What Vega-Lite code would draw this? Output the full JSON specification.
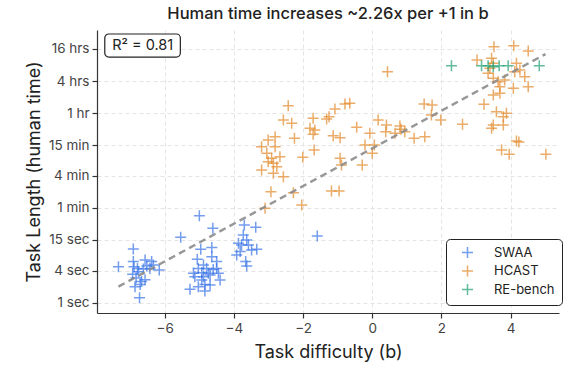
{
  "$schema": "https://vega.github.io/schema/vega-lite/v6.json",
  "width": 462,
  "height": 283,
  "autosize": "none",
  "padding": {"left": 97, "top": 30, "right": 4, "bottom": 55},
  "background": "white",
  "title": {"text": "Human time increases ~2.26x per +1 in b", "fontSize": 16.5, "fontWeight": 500, "font": "Inter", "color": "#222", "offset": 8, "anchor": "middle"},
  "datasets": {
    "points": [
      {"b": -6.91, "t": 10.2, "source": "SWAA"}, {"b": -7.34, "t": 4.7, "source": "SWAA"}, {"b": -6.91, "t": 5.9, "source": "SWAA"},
      {"b": -6.57, "t": 6.3, "source": "SWAA"}, {"b": -6.38, "t": 5.9, "source": "SWAA"}, {"b": -6.89, "t": 4.7, "source": "SWAA"},
      {"b": -6.79, "t": 4.4, "source": "SWAA"}, {"b": -6.52, "t": 4.9, "source": "SWAA"}, {"b": -6.33, "t": 5.1, "source": "SWAA"},
      {"b": -6.16, "t": 4.1, "source": "SWAA"}, {"b": -6.76, "t": 3.8, "source": "SWAA"}, {"b": -6.62, "t": 4.3, "source": "SWAA"},
      {"b": -6.93, "t": 3.4, "source": "SWAA"}, {"b": -6.83, "t": 2.9, "source": "SWAA"}, {"b": -6.57, "t": 2.7, "source": "SWAA"},
      {"b": -6.67, "t": 2.5, "source": "SWAA"}, {"b": -6.86, "t": 2.0, "source": "SWAA"}, {"b": -6.71, "t": 2.2, "source": "SWAA"},
      {"b": -6.73, "t": 1.24, "source": "SWAA"}, {"b": -6.43, "t": 4.4, "source": "SWAA"},
      {"b": -5.0, "t": 42.9, "source": "SWAA"}, {"b": -4.61, "t": 24.8, "source": "SWAA"}, {"b": -5.54, "t": 16.8, "source": "SWAA"},
      {"b": -4.96, "t": 10.0, "source": "SWAA"}, {"b": -4.64, "t": 10.8, "source": "SWAA"}, {"b": -5.06, "t": 6.5, "source": "SWAA"},
      {"b": -4.64, "t": 7.3, "source": "SWAA"}, {"b": -4.5, "t": 5.9, "source": "SWAA"}, {"b": -4.88, "t": 5.1, "source": "SWAA"},
      {"b": -5.03, "t": 4.4, "source": "SWAA"}, {"b": -4.79, "t": 4.4, "source": "SWAA"}, {"b": -4.6, "t": 4.2, "source": "SWAA"},
      {"b": -5.17, "t": 3.55, "source": "SWAA"}, {"b": -4.93, "t": 3.65, "source": "SWAA"}, {"b": -4.74, "t": 3.55, "source": "SWAA"},
      {"b": -4.5, "t": 4.4, "source": "SWAA"}, {"b": -4.45, "t": 3.55, "source": "SWAA"}, {"b": -5.13, "t": 3.07, "source": "SWAA"},
      {"b": -4.88, "t": 3.07, "source": "SWAA"}, {"b": -4.69, "t": 3.3, "source": "SWAA"}, {"b": -4.93, "t": 2.66, "source": "SWAA"},
      {"b": -4.4, "t": 2.66, "source": "SWAA"}, {"b": -4.84, "t": 2.2, "source": "SWAA"}, {"b": -5.27, "t": 1.78, "source": "SWAA"},
      {"b": -5.03, "t": 2.0, "source": "SWAA"}, {"b": -4.84, "t": 1.66, "source": "SWAA"}, {"b": -4.69, "t": 2.14, "source": "SWAA"},
      {"b": -3.7, "t": 28.7, "source": "SWAA"}, {"b": -3.37, "t": 25.9, "source": "SWAA"}, {"b": -3.73, "t": 18.6, "source": "SWAA"},
      {"b": -3.63, "t": 15.0, "source": "SWAA"}, {"b": -3.87, "t": 13.0, "source": "SWAA"}, {"b": -3.78, "t": 12.1, "source": "SWAA"},
      {"b": -3.58, "t": 12.1, "source": "SWAA"}, {"b": -3.49, "t": 9.7, "source": "SWAA"}, {"b": -3.34, "t": 10.0, "source": "SWAA"},
      {"b": -3.82, "t": 9.1, "source": "SWAA"}, {"b": -3.92, "t": 7.8, "source": "SWAA"}, {"b": -3.66, "t": 5.9, "source": "SWAA"},
      {"b": -3.63, "t": 4.9, "source": "SWAA"}, {"b": -1.59, "t": 17.8, "source": "SWAA"},
      {"b": -2.43, "t": 4966, "source": "HCAST"}, {"b": -2.57, "t": 2673, "source": "HCAST"}, {"b": -2.33, "t": 2315, "source": "HCAST"},
      {"b": -2.81, "t": 1301, "source": "HCAST"}, {"b": -2.25, "t": 1211, "source": "HCAST"}, {"b": -3.01, "t": 1127, "source": "HCAST"},
      {"b": -3.2, "t": 845, "source": "HCAST"}, {"b": -2.81, "t": 845, "source": "HCAST"}, {"b": -3.05, "t": 634, "source": "HCAST"},
      {"b": -1.71, "t": 2872, "source": "HCAST"}, {"b": -1.8, "t": 1866, "source": "HCAST"}, {"b": -1.66, "t": 1737, "source": "HCAST"},
      {"b": -1.71, "t": 1439, "source": "HCAST"}, {"b": -1.32, "t": 2793, "source": "HCAST"}, {"b": -1.25, "t": 3090, "source": "HCAST"},
      {"b": -1.08, "t": 4301, "source": "HCAST"}, {"b": -1.13, "t": 1359, "source": "HCAST"}, {"b": -0.93, "t": 1247, "source": "HCAST"},
      {"b": -1.68, "t": 731, "source": "HCAST"}, {"b": -2.01, "t": 533, "source": "HCAST"}, {"b": -2.91, "t": 510, "source": "HCAST"},
      {"b": -2.67, "t": 548, "source": "HCAST"}, {"b": -2.86, "t": 411, "source": "HCAST"}, {"b": -2.76, "t": 356, "source": "HCAST"},
      {"b": -3.2, "t": 308, "source": "HCAST"}, {"b": -2.86, "t": 267, "source": "HCAST"}, {"b": -2.57, "t": 231, "source": "HCAST"},
      {"b": -0.93, "t": 510, "source": "HCAST"}, {"b": -0.89, "t": 383, "source": "HCAST"}, {"b": -2.93, "t": 121, "source": "HCAST"},
      {"b": -2.28, "t": 116, "source": "HCAST"}, {"b": -1.18, "t": 124, "source": "HCAST"}, {"b": -0.96, "t": 124, "source": "HCAST"},
      {"b": -2.04, "t": 68, "source": "HCAST"}, {"b": -3.1, "t": 59, "source": "HCAST"}, {"b": -3.01, "t": 442, "source": "HCAST"},
      {"b": -0.79, "t": 5337, "source": "HCAST"}, {"b": -0.65, "t": 5494, "source": "HCAST"}, {"b": 1.5, "t": 5337, "source": "HCAST"},
      {"b": 1.73, "t": 5114, "source": "HCAST"}, {"b": 1.71, "t": 3319, "source": "HCAST"}, {"b": 1.98, "t": 2673, "source": "HCAST"},
      {"b": 0.17, "t": 2673, "source": "HCAST"}, {"b": 0.41, "t": 2154, "source": "HCAST"}, {"b": 0.39, "t": 1615, "source": "HCAST"},
      {"b": 0.66, "t": 1503, "source": "HCAST"}, {"b": 0.8, "t": 2063, "source": "HCAST"}, {"b": 0.83, "t": 1786, "source": "HCAST"},
      {"b": 0.94, "t": 1615, "source": "HCAST"}, {"b": 1.21, "t": 1211, "source": "HCAST"}, {"b": 1.52, "t": 1301, "source": "HCAST"},
      {"b": -0.45, "t": 1948, "source": "HCAST"}, {"b": -0.07, "t": 1503, "source": "HCAST"}, {"b": -0.21, "t": 908, "source": "HCAST"},
      {"b": 0.06, "t": 908, "source": "HCAST"}, {"b": 0.0, "t": 634, "source": "HCAST"}, {"b": -0.29, "t": 383, "source": "HCAST"},
      {"b": 0.44, "t": 21580, "source": "HCAST"}, {"b": 3.52, "t": 63500, "source": "HCAST"}, {"b": 4.09, "t": 66300, "source": "HCAST"},
      {"b": 4.51, "t": 52700, "source": "HCAST"}, {"b": 3.03, "t": 35700, "source": "HCAST"}, {"b": 3.45, "t": 38400, "source": "HCAST"},
      {"b": 3.5, "t": 30900, "source": "HCAST"}, {"b": 3.4, "t": 24900, "source": "HCAST"}, {"b": 4.17, "t": 30900, "source": "HCAST"},
      {"b": 4.12, "t": 21580, "source": "HCAST"}, {"b": 4.27, "t": 23200, "source": "HCAST"}, {"b": 4.41, "t": 17380, "source": "HCAST"},
      {"b": 3.5, "t": 16180, "source": "HCAST"}, {"b": 3.64, "t": 14000, "source": "HCAST"}, {"b": 3.83, "t": 15060, "source": "HCAST"},
      {"b": 3.69, "t": 11290, "source": "HCAST"}, {"b": 4.08, "t": 10500, "source": "HCAST"}, {"b": 4.51, "t": 11290, "source": "HCAST"},
      {"b": 3.5, "t": 7870, "source": "HCAST"}, {"b": 3.69, "t": 8460, "source": "HCAST"}, {"b": 3.23, "t": 5260, "source": "HCAST"},
      {"b": 3.59, "t": 3830, "source": "HCAST"}, {"b": 3.88, "t": 3570, "source": "HCAST"}, {"b": 3.79, "t": 3090, "source": "HCAST"},
      {"b": 3.79, "t": 2154, "source": "HCAST"}, {"b": 3.5, "t": 2154, "source": "HCAST"}, {"b": 3.45, "t": 1866, "source": "HCAST"},
      {"b": 2.61, "t": 2218, "source": "HCAST"}, {"b": 4.17, "t": 1079, "source": "HCAST"}, {"b": 4.24, "t": 1030, "source": "HCAST"},
      {"b": 3.74, "t": 731, "source": "HCAST"}, {"b": 3.96, "t": 607, "source": "HCAST"}, {"b": 5.02, "t": 607, "source": "HCAST"},
      {"b": 3.35, "t": 20100, "source": "HCAST"},
      {"b": 2.29, "t": 27990, "source": "RE-bench"}, {"b": 3.16, "t": 27990, "source": "RE-bench"}, {"b": 3.35, "t": 27990, "source": "RE-bench"},
      {"b": 3.5, "t": 26790, "source": "RE-bench"}, {"b": 3.67, "t": 27990, "source": "RE-bench"}, {"b": 3.93, "t": 27990, "source": "RE-bench"},
      {"b": 4.83, "t": 27990, "source": "RE-bench"}
    ],
    "trend": [
      {"b": -7.34, "t": 2.0},
      {"b": 5.01, "t": 46240}
    ],
    "note": [
      {"label": "R² = 0.81"}
    ]
  },
  "layer": [
    {
      "data": {"name": "points"},
      "mark": {"type": "point", "shape": "M-1,0L1,0M0,-1L0,1", "filled": false, "size": 121, "strokeWidth": 1.5, "opacity": 0.7},
      "encoding": {
        "x": {"field": "b", "type": "quantitative", "scale": {"domain": [-7.96, 5.4], "nice": false, "zero": false},
          "axis": {"values": [-6, -4, -2, 0, 2, 4], "title": "Task difficulty (b)", "titlePadding": 9}},
        "y": {"field": "t", "type": "quantitative", "scale": {"type": "log", "domain": [0.64, 130600], "nice": false},
          "axis": {"values": [1, 4, 15, 60, 240, 900, 3600, 14400, 57600], "title": "Task Length (human time)", "titlePadding": 5,
            "labelExpr": "datum.value==1?'1 sec':datum.value==4?'4 sec':datum.value==15?'15 sec':datum.value==60?'1 min':datum.value==240?'4 min':datum.value==900?'15 min':datum.value==3600?'1 hr':datum.value==14400?'4 hrs':'16 hrs'"}},
        "color": {"field": "source", "type": "nominal",
          "scale": {"domain": ["SWAA", "HCAST", "RE-bench"], "range": ["#3a74e8", "#e3892a", "#1fa072"]},
          "legend": {"title": null, "orient": "none", "legendX": 349, "legendY": 209, "symbolType": "M-1,0L1,0M0,-1L0,1", "symbolSize": 121, "symbolStrokeWidth": 1.5, "symbolOpacity": 0.7, "labelFontSize": 13, "labelFont": "Inter", "labelColor": "#222", "padding": 7, "symbolOffset": 8, "labelOffset": 20, "rowPadding": 1.5, "strokeColor": "#222", "cornerRadius": 4, "fillColor": "white"}}
      }
    },
    {
      "data": {"name": "trend"},
      "mark": {"type": "line", "color": "#8c8c8c", "strokeWidth": 2.5, "strokeDash": [7, 4.5], "opacity": 0.9},
      "encoding": {
        "x": {"field": "b", "type": "quantitative"},
        "y": {"field": "t", "type": "quantitative"}
      }
    },
    {
      "data": {"name": "note"},
      "mark": {"type": "rect", "fill": "white", "stroke": "#222", "strokeWidth": 1.2, "cornerRadius": 4},
      "encoding": {
        "x": {"datum": -7.735, "type": "quantitative"},
        "x2": {"datum": -5.55},
        "y": {"datum": 109900, "type": "quantitative"},
        "y2": {"datum": 40500}
      }
    },
    {
      "data": {"name": "note"},
      "mark": {"type": "text", "font": "Inter", "fontSize": 14.5, "color": "#222", "align": "center", "baseline": "middle"},
      "encoding": {
        "text": {"field": "label"},
        "x": {"datum": -6.64, "type": "quantitative"},
        "y": {"datum": 66500, "type": "quantitative"}
      }
    }
  ],
  "config": {
    "view": {"stroke": null},
    "font": "Inter",
    "axis": {
      "labelFont": "Inter", "labelFontSize": 13.5, "labelColor": "#444",
      "titleFont": "Inter", "titleFontSize": 18, "titleFontWeight": "normal", "titleColor": "#222",
      "domainColor": "#333", "domainWidth": 1.2,
      "tickColor": "#333", "tickWidth": 1.2, "tickSize": 5,
      "gridColor": "#dddddd", "gridDash": [4, 3], "gridWidth": 0.8,
      "labelPadding": 3
    }
  }
}
